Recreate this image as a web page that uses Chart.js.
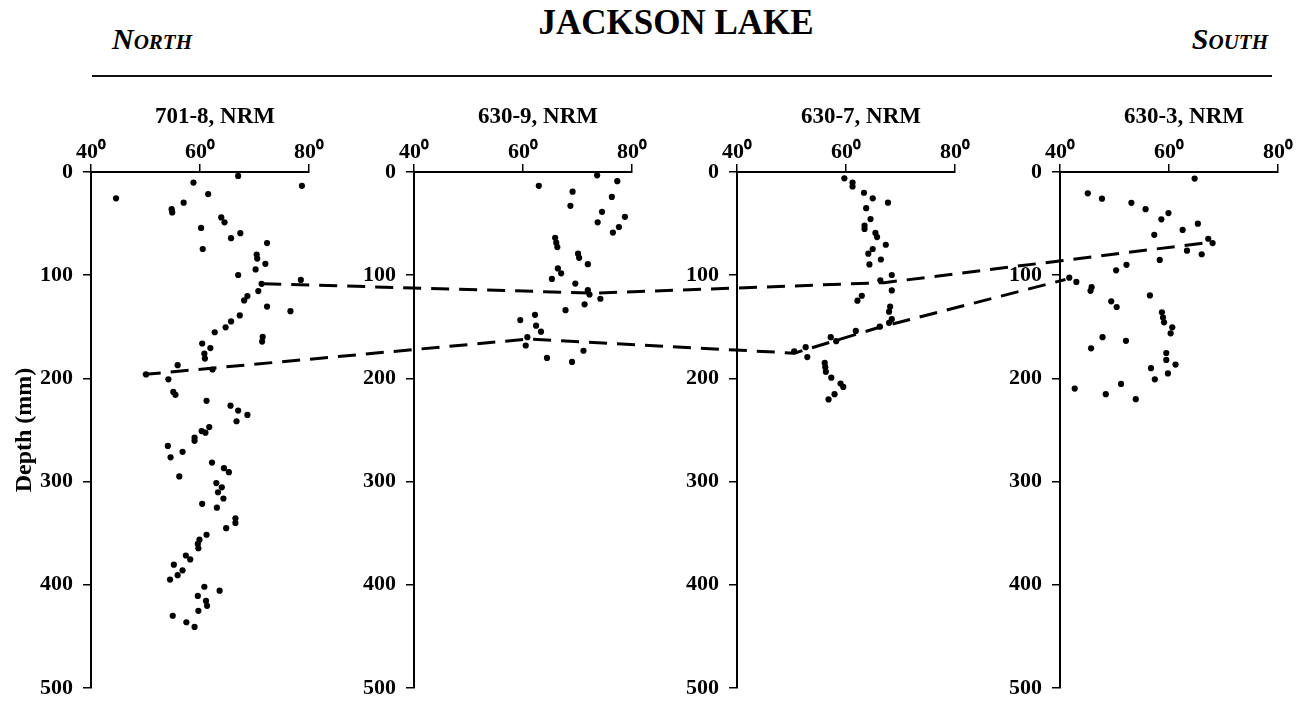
<!DOCTYPE html>
<html>
<head>
<meta charset="utf-8">
<script src="https://cdn.jsdelivr.net/npm/chart.js@4.4.1/dist/chart.umd.min.js"></script>
<style>
  body { margin: 0; width: 1304px; height: 711px; background: #fff; position: relative; overflow: hidden;
         font-family: "Liberation Serif", "Times New Roman", serif; color: #000; }
  canvas { position: absolute; }
  .hdr { position: absolute; font-weight: bold; line-height: 1; white-space: nowrap; }
  #title { left: 476px; width: 400px; top: 5px; font-size: 35px; text-align: center; }
  #north, #south { top: 24px; font-size: 30px; font-style: italic; font-variant: small-caps; }
  #north { left: 112px; }
  #south { right: 36px; }
  #rule { position: absolute; left: 92px; width: 1180px; top: 75px; height: 2px; background: #111; }
  .ptitle { position: absolute; top: 104px; width: 200px; text-align: center; font-size: 23px; font-weight: bold; line-height: 1; }
  #overlay { pointer-events: none; }
</style>
</head>
<body>
<div class="hdr" id="north">North</div>
<div class="hdr" id="title">JACKSON LAKE</div>
<div class="hdr" id="south">South</div>
<div id="rule"></div>

<script>
// axes
const degTicks = [40, 60, 80];
const depthTicks = [0, 100, 200, 300, 400, 500];
const panelNames = ["701-8, NRM", "630-9, NRM", "630-7, NRM", "630-3, NRM"];

// core 701-8 (inclination deg, depth mm)
const incl7018 = [44.6, 58.8, 67.0, 78.7, 61.5, 54.8, 54.9, 57.0, 63.9, 64.5, 60.2, 67.4, 65.7, 60.5, 72.3, 70.4, 70.5, 72.0, 70.2, 67.0,
  78.5, 71.3, 70.7, 68.7, 68.1, 72.3, 76.6, 67.3, 65.7, 64.7, 62.7, 71.5, 71.4, 60.4, 61.9, 60.8, 60.9, 55.9, 62.3, 50.1,
  54.2, 55.1, 55.5, 61.2, 65.6, 67.0, 68.7, 66.7, 61.7, 60.3, 61.0, 59.0, 59.0, 54.1, 56.8, 54.6, 62.2, 64.4, 65.3, 56.2,
  63.0, 64.0, 63.3, 64.3, 60.4, 63.1, 66.5, 66.5, 64.8, 61.2, 59.9, 59.6, 59.7, 57.4, 58.2, 55.2, 56.8, 55.9, 54.5, 60.8,
  63.6, 59.6, 61.1, 61.3, 59.7, 55.0, 57.5, 59.0];
const depth7018 = [25.5, 10.2, 3.8, 13.4, 21.4, 36.0, 39.2, 29.7, 44.0, 48.8, 54.2, 59.3, 64.1, 74.6, 68.9, 80.0, 83.9, 89.0, 94.4, 99.8,
  104.6, 108.4, 115.4, 120.2, 124.4, 130.4, 134.9, 139.0, 144.8, 150.5, 155.3, 159.8, 164.3, 166.2, 170.6, 176.0, 180.8, 187.2, 191.4, 196.1,
  200.9, 213.1, 215.9, 221.7, 226.4, 231.2, 235.4, 241.5, 247.2, 251.0, 252.6, 257.4, 260.5, 265.4, 271.1, 276.5, 281.6, 287.0, 290.9, 295.0,
  301.4, 305.5, 310.3, 316.4, 321.5, 325.3, 335.5, 340.0, 345.1, 351.5, 356.3, 360.4, 364.6, 371.6, 375.4, 380.5, 386.0, 390.7, 394.9, 401.9,
  405.7, 410.8, 415.6, 420.4, 425.2, 430.0, 436.3, 440.8];

// core 630-9
const incl6309 = [73.6, 77.3, 62.9, 69.1, 76.3, 81.5, 68.7, 74.5, 78.7, 73.7, 77.6, 76.5, 65.9, 66.1, 66.3, 70.1, 70.3, 71.9,
  66.4, 67.0, 65.3, 69.6, 71.9, 72.2, 74.2, 71.3, 67.8, 62.2, 59.5, 62.4, 63.3, 60.8, 60.5, 71.1, 64.4, 69.0];
const depth6309 = [3.2, 8.9, 13.4, 19.1, 24.2, 28.1, 32.8, 38.6, 43.4, 48.8, 53.3, 58.7, 63.8, 68.5, 72.7, 79.1, 83.2, 89.3,
  93.4, 98.2, 103.6, 108.1, 114.5, 118.7, 122.8, 128.2, 133.9, 138.4, 143.5, 148.9, 154.7, 160.1, 168.1, 173.2, 180.2, 184.0];

// core 630-7
const incl6307 = [59.7, 61.2, 61.2, 63.3, 64.9, 67.7, 63.7, 64.5, 63.4, 63.4, 65.4, 65.7, 67.3, 64.9, 64.1, 66.4, 64.3, 68.4, 66.3,
  68.4, 62.9, 62.1, 68.1, 67.9, 68.4, 67.9, 66.2, 61.8, 57.2, 58.2, 52.6, 50.5, 52.9, 56.1, 56.2, 56.3, 57.3, 59.0, 59.5, 57.9, 56.8];
const depth6307 = [6.1, 10.2, 14.0, 20.1, 25.5, 29.7, 35.1, 45.6, 52.0, 55.2, 59.0, 63.1, 70.5, 74.6, 79.1, 84.8, 89.6, 99.8, 104.9,
  114.8, 119.9, 124.7, 130.5, 135.3, 142.6, 146.1, 149.9, 154.0, 160.1, 163.9, 169.7, 173.8, 179.3, 185.0, 189.1, 193.6, 199.3, 205.0, 208.3, 215.3, 220.4];

// core 630-3
const incl6303 = [64.7, 45.1, 47.7, 53.1, 55.7, 59.9, 58.6, 65.3, 62.5, 57.3, 67.2, 68.0, 63.3, 66.0, 58.3, 52.2, 50.3, 41.7, 43.0, 45.8, 45.6,
  56.5, 49.4, 50.4, 58.7, 58.9, 59.1, 60.6, 60.3, 47.8, 52.1, 45.7, 59.5, 59.5, 61.2, 56.7, 59.8, 57.4, 51.2, 42.7, 48.4, 53.9];
const depth6303 = [6.4, 20.7, 25.8, 29.9, 36.0, 39.8, 45.9, 50.1, 56.1, 60.9, 64.7, 68.9, 76.2, 79.7, 85.2, 89.9, 95.3, 102.4, 106.5, 111.6, 115.1,
  119.6, 125.3, 130.8, 135.9, 141.0, 145.7, 150.5, 156.3, 160.1, 163.6, 170.9, 175.4, 182.1, 186.6, 190.1, 195.2, 200.9, 205.4, 209.9, 215.3, 220.1];

// correlation lines: panel index, inclination, depth of each vertex
const upperPanel = [0, 1, 2, 3];
const upperIncl = [71.6, 73.2, 67.0, 68.0];
const upperDepth = [107, 116, 106, 67];
const lowerPanel = [0, 1, 2, 2, 3];
const lowerIncl = [49.5, 61.0, 50.5, 66.0, 41.0];
const lowerDepth = [194, 160, 173.5, 149, 103];

// layout (px)
const AXIS_LEFT = 91, PANEL_STEP = 323, PLOT_W = 218, Y_AXIS_W = 85;
const PLOT_TOP = 172, PLOT_BOTTOM = 694, CANVAS_TOP = 120;
const PANEL_SPAN = PANEL_STEP * (degTicks[2] - degTicks[0]) / PLOT_W;   // panel spacing in degrees

const FONT = "'Liberation Serif', 'Times New Roman', serif";
const tickFont = { family: FONT, size: 22, weight: "bold", lineHeight: 1 };

const allIncl = [incl7018, incl6309, incl6307, incl6303];
const allDepth = [depth7018, depth6309, depth6307, depth6303];

function makePanel(i) {
  const cv = document.createElement("canvas");
  cv.width = Y_AXIS_W + PLOT_W + 24;
  cv.height = PLOT_BOTTOM + 15 - CANVAS_TOP;
  cv.style.left = (AXIS_LEFT + PANEL_STEP * i - Y_AXIS_W) + "px";
  cv.style.top = CANVAS_TOP + "px";
  document.body.appendChild(cv);

  const t = document.createElement("div");
  t.className = "ptitle";
  t.textContent = panelNames[i];
  t.style.left = (AXIS_LEFT + PANEL_STEP * i + PLOT_W / 2 + 15 - 100) + "px";
  document.body.appendChild(t);

  const pts = allIncl[i].map((v, k) => ({ x: v, y: allDepth[i][k] }));

  new Chart(cv, {
    type: "scatter",
    data: {
      datasets: [{
        data: pts,
        pointRadius: 3.1,
        pointBackgroundColor: "#000",
        pointBorderWidth: 0,
        clip: false
      }]
    },
    options: {
      responsive: false,
      animation: false,
      events: [],
      layout: { padding: { left: 0, right: 24, top: 0, bottom: 15 } },
      plugins: { legend: { display: false }, tooltip: { enabled: false } },
      scales: {
        x: {
          type: "linear",
          position: "top",
          min: degTicks[0],
          max: degTicks[degTicks.length - 1],
          afterBuildTicks: s => { s.ticks = degTicks.map(v => ({ value: v })); },
          ticks: { callback: v => v + "\u2070", color: "#000", font: tickFont, padding: 1, maxRotation: 0 },
          grid: { drawOnChartArea: false, drawTicks: true, tickLength: 8, color: "#000", lineWidth: 1.5 },
          border: { color: "#000", width: 2 },
          afterFit: s => { s.height = PLOT_TOP - CANVAS_TOP; }
        },
        y: {
          type: "linear",
          min: 0,
          max: 500,
          reverse: true,
          afterBuildTicks: s => { s.ticks = depthTicks.map(v => ({ value: v })); },
          ticks: { color: "#000", font: tickFont, padding: 10 },
          grid: { drawOnChartArea: false, drawTicks: true, tickLength: 8, color: "#000", lineWidth: 1.5 },
          border: { color: "#000", width: 2 },
          title: {
            display: i === 0,
            text: "Depth (mm)",
            color: "#000",
            font: { family: FONT, size: 24, weight: "bold", lineHeight: 1 },
            padding: { top: 7, bottom: 0 }
          },
          afterFit: s => { s.width = Y_AXIS_W; }
        }
      }
    }
  });
}

for (let i = 0; i < 4; i++) makePanel(i);

// dashed correlation lines across the panels
function linePoints(panels, incl, depth) {
  return panels.map((p, k) => ({ x: incl[k] + p * PANEL_SPAN, y: depth[k] }));
}

const ov = document.createElement("canvas");
ov.id = "overlay";
ov.width = 1304;
ov.height = 711;
ov.style.left = "0px";
ov.style.top = "0px";
document.body.appendChild(ov);

const dashStyle = { borderColor: "#000", borderWidth: 3, borderDash: [18, 10], pointRadius: 0, fill: false, tension: 0 };

new Chart(ov, {
  type: "line",
  data: {
    datasets: [
      Object.assign({ data: linePoints(upperPanel, upperIncl, upperDepth) }, dashStyle),
      Object.assign({ data: linePoints(lowerPanel, lowerIncl, lowerDepth) }, dashStyle)
    ]
  },
  options: {
    responsive: false,
    animation: false,
    events: [],
    layout: {
      padding: {
        left: AXIS_LEFT,
        right: 1304 - (AXIS_LEFT + 3 * PANEL_STEP + PLOT_W),
        top: PLOT_TOP,
        bottom: 711 - PLOT_BOTTOM
      }
    },
    plugins: { legend: { display: false }, tooltip: { enabled: false } },
    scales: {
      x: { type: "linear", display: false, min: degTicks[0], max: degTicks[2] + 3 * PANEL_SPAN },
      y: { type: "linear", display: false, min: 0, max: 500, reverse: true }
    }
  }
});
</script>
</body>
</html>
